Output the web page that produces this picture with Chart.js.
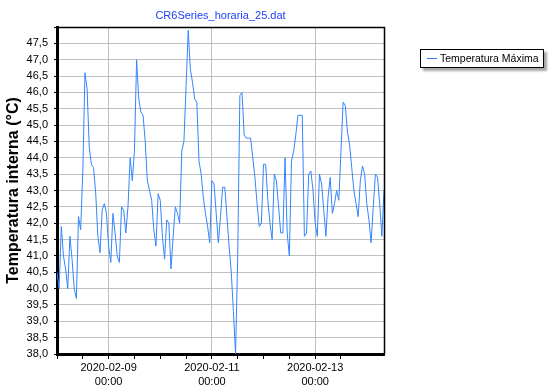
<!DOCTYPE html>
<html>
<head>
<meta charset="utf-8">
<script src="https://cdn.jsdelivr.net/npm/chart.js@4.4.1/dist/chart.umd.min.js"></script>
<style>
  body { margin: 0; background: #fff; font-family: "Liberation Sans", Arial, sans-serif; }
  #wrap { position: relative; width: 549px; height: 389px; }
  #chart { position: absolute; left: 0; top: 0; }
  #title { position: absolute; left: 57px; width: 327px; top: 9px; text-align: center; font-size: 11px; color: #2040ff; }
  #legend { position: absolute; left: 420px; top: 49px; width: 122px; height: 17px; border: 1px solid #000; background: #fff;
            box-shadow: 3px 3px 2px rgba(0,0,0,0.35); font-size: 10.5px; line-height: 17px; white-space: nowrap; }
  #legend .swatch { position: absolute; left: 6px; top: 8px; width: 10px; height: 1px; background: #3385ff; }
  #legend .label { position: absolute; left: 19px; top: 0; }
</style>
</head>
<body>
<div id="wrap">
  <canvas id="chart" width="549" height="389"></canvas>
  <div id="title">CR6Series_horaria_25.dat</div>
  <div id="legend"><span class="swatch"></span><span class="label">Temperatura Máxima</span></div>
</div>
<script>
// hourly readings starting 2020-02-08 00:00
const seriesName = 'Temperatura Máxima';
const tempMax = [
  40.5, 40.0, 41.9, 41.0, 40.6, 40.0, 41.6, 40.9, 40.0, 39.7, 42.2, 41.8, 43.6, 46.6, 46.1, 44.3,
  43.8, 43.7, 42.9, 41.6, 41.1, 42.4, 42.6, 42.3, 41.3, 40.8, 42.3, 41.7, 41.0, 40.8, 42.5,
  42.4, 41.7, 42.5, 44.0, 43.3, 44.2, 47.0, 45.8, 45.4, 45.3, 44.5, 43.3, 43.0, 42.7, 41.8, 41.3,
  42.9, 42.7, 41.6, 40.9, 42.1, 42.0, 40.6, 41.6, 42.5, 42.3, 42.0, 44.2, 44.5, 46.2, 47.9,
  46.7, 46.3, 45.8, 45.7, 43.9, 43.5, 42.8, 42.3, 41.9, 41.4, 43.3, 43.2, 42.3, 41.4, 42.2, 43.1,
  43.1, 42.2, 41.3, 40.5, 39.3, 38.0, 41.0, 45.9, 46.0, 44.7, 44.6, 44.6, 44.6, 44.0, 43.4,
  42.6, 41.9, 42.0, 43.8, 43.8, 42.7, 42.0, 41.5, 43.5, 43.3, 42.5, 41.7, 41.7, 44.0, 41.7, 41.0,
  43.9, 44.2, 44.7, 45.3, 45.3, 45.3, 41.6, 41.7, 43.5, 43.6, 43.0, 42.0, 41.6,
  43.5, 43.2, 42.4, 41.6, 42.8, 43.4, 42.3, 42.6, 43.0, 42.7, 44.2, 45.7, 45.6, 44.8, 44.4, 43.7,
  43.0, 42.6, 42.2, 43.3, 43.75, 43.5, 42.6, 42.1, 41.4, 42.5, 43.5, 43.4, 42.6, 41.6, 43.0
];
const dayLabels = ['2020-02-09', '2020-02-11', '2020-02-13'];
const dayLabelHours = [24, 72, 120];
const timeLabel = '00:00';

const yTitle = 'Temperatura interna (°C)';

const points = tempMax.map((v, i) => ({ x: i, y: v }));

const frame = {
  id: 'frame',
  afterDraw(chart) {
    const { ctx, chartArea: a } = chart;
    ctx.save();
    ctx.strokeStyle = '#000';
    ctx.lineWidth = 1.5;
    ctx.beginPath();
    ctx.moveTo(a.left, a.top + 0.5);
    ctx.lineTo(a.right + 0.5, a.top + 0.5);
    ctx.lineTo(a.right + 0.5, a.bottom);
    ctx.stroke();
    ctx.restore();
  }
};

new Chart(document.getElementById('chart'), {
  type: 'line',
  data: {
    datasets: [{
      label: seriesName,
      data: points,
      borderColor: '#3385ff',
      borderWidth: 1,
      pointRadius: 0,
      tension: 0
    }]
  },
  options: {
    responsive: false,
    animation: false,
    layout: { padding: { left: 0, top: 27, right: 165, bottom: 0 } },
    plugins: { legend: { display: false }, title: { display: false }, tooltip: { enabled: false } },
    scales: {
      x: {
        type: 'linear',
        min: 0,
        max: tempMax.length - 1,
        afterFit: s => { s.height = 35; },
        border: { color: '#000', width: 3 },
        grid: {
          color: c => dayLabelHours.includes(c.tick && c.tick.value) ? '#c0c0c0' : 'transparent',
          tickColor: c => (c.tick && c.tick.value % 12 === 0) ? '#000' : 'transparent',
          tickLength: 5
        },
        ticks: {
          stepSize: 12,
          autoSkip: false,
          maxRotation: 0,
          padding: 2,
          color: '#000',
          font: { family: '"Liberation Sans", Arial', size: 11, lineHeight: 1.25 },
          callback: v => {
            const k = dayLabelHours.indexOf(v);
            return k >= 0 ? [dayLabels[k], timeLabel] : '';
          }
        }
      },
      y: {
        min: 38,
        max: 48,
        afterFit: s => { s.width = 57; },
        border: { color: '#000', width: 3 },
        grid: { color: '#c0c0c0', tickColor: '#000', tickLength: 3 },
        ticks: {
          stepSize: 0.5,
          padding: 6,
          color: '#000',
          font: { family: '"Liberation Sans", Arial', size: 11 },
          callback: v => v >= 48 ? '' : v.toFixed(1).replace('.', ',')
        },
        title: {
          display: true,
          text: yTitle,
          color: '#000',
          font: { family: '"Liberation Sans", Arial', size: 16, weight: 'bold' },
          padding: { top: 4, bottom: 4 }
        }
      }
    }
  },
  plugins: [frame]
});
</script>
</body>
</html>
